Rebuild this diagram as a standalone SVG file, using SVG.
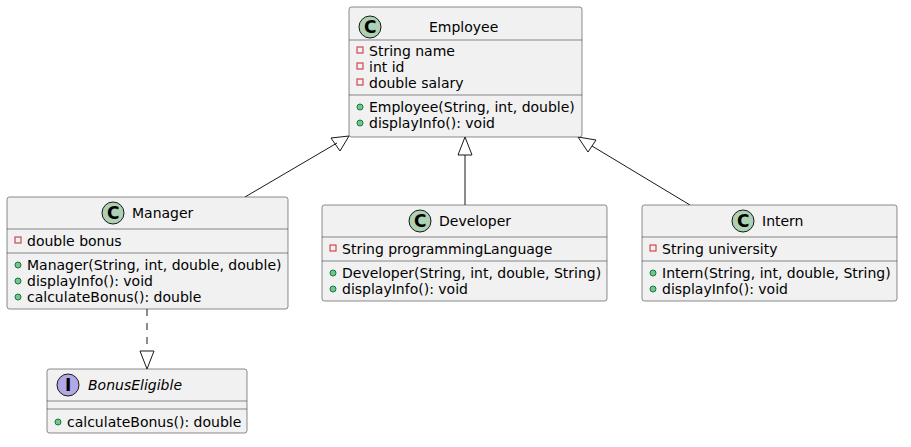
<svg xmlns="http://www.w3.org/2000/svg" width="911" height="447" viewBox="0 0 911 447">
<style>
.box{fill:#F1F1F1;stroke:#181818;stroke-width:0.5}
.sep{stroke:#181818;stroke-width:0.5}
text{font-family:"DejaVu Sans",sans-serif;font-size:14px;fill:#000}
.c{fill:#ADD1B2;stroke:#181818;stroke-width:1}
.i{fill:#B4A7E5;stroke:#181818;stroke-width:1}
.l{fill:#000;font-size:17px;font-weight:bold}
.pr{fill:none;stroke:#C82930;stroke-width:1}
.pu{fill:#84BE84;stroke:#038048;stroke-width:1}
.conn{stroke:#181818;stroke-width:1;fill:none}
.tri{fill:none;stroke:#181818;stroke-width:1}
</style>
<g id="connectors">
<line class="conn" x1="245" y1="197" x2="337" y2="143"/>
<polygon class="tri" points="349,136 331,138 340,151"/>
<line class="conn" x1="465" y1="205" x2="465" y2="155"/>
<polygon class="tri" points="465,137 458,155 472,155"/>
<line class="conn" x1="690" y1="205" x2="592" y2="146"/>
<polygon class="tri" points="578,137 588,152 596,140"/>
<line class="conn" x1="147" y1="309" x2="147" y2="351" stroke-dasharray="7,7"/>
<polygon class="tri" points="147,369 140,351 154,351"/>
</g>
<g id="Employee">
<rect class="box" x="349" y="7" width="233" height="130" rx="2.5"/>
<circle class="c" cx="370" cy="27" r="11"/><text class="l" x="364" y="33">C</text>
<text x="429" y="32">Employee</text>
<line class="sep" x1="349" y1="40" x2="582" y2="40"/>
<rect class="pr" x="357" y="47" width="6" height="6"/><text x="369" y="56">String name</text>
<rect class="pr" x="357" y="63" width="6" height="6"/><text x="369" y="72">int id</text>
<rect class="pr" x="357" y="79" width="6" height="6"/><text x="369" y="88">double salary</text>
<line class="sep" x1="349" y1="95" x2="582" y2="95"/>
<circle class="pu" cx="360" cy="107" r="3"/><text x="369" y="112">Employee(String, int, double)</text>
<circle class="pu" cx="360" cy="123" r="3"/><text x="369" y="128">displayInfo(): void</text>
</g>
<g id="Manager">
<rect class="box" x="7" y="197" width="281" height="112" rx="2.5"/>
<circle class="c" cx="113" cy="213" r="11"/><text class="l" x="107" y="219">C</text>
<text x="132" y="218">Manager</text>
<line class="sep" x1="7" y1="229" x2="288" y2="229"/>
<rect class="pr" x="15" y="237" width="6" height="6"/><text x="27" y="246">double bonus</text>
<line class="sep" x1="7" y1="253" x2="288" y2="253"/>
<circle class="pu" cx="18" cy="265" r="3"/><text x="27" y="270">Manager(String, int, double, double)</text>
<circle class="pu" cx="18" cy="281" r="3"/><text x="27" y="286">displayInfo(): void</text>
<circle class="pu" cx="18" cy="297" r="3"/><text x="27" y="302">calculateBonus(): double</text>
</g>
<g id="Developer">
<rect class="box" x="322" y="205" width="285" height="96" rx="2.5"/>
<circle class="c" cx="420" cy="221" r="11"/><text class="l" x="414" y="227">C</text>
<text x="439" y="226">Developer</text>
<line class="sep" x1="322" y1="237" x2="607" y2="237"/>
<rect class="pr" x="330" y="245" width="6" height="6"/><text x="342" y="254">String programmingLanguage</text>
<line class="sep" x1="322" y1="261" x2="607" y2="261"/>
<circle class="pu" cx="333" cy="273" r="3"/><text x="342" y="278">Developer(String, int, double, String)</text>
<circle class="pu" cx="333" cy="289" r="3"/><text x="342" y="294">displayInfo(): void</text>
</g>
<g id="Intern">
<rect class="box" x="642" y="205" width="255" height="96" rx="2.5"/>
<circle class="c" cx="743" cy="221" r="11"/><text class="l" x="737" y="227">C</text>
<text x="762" y="226">Intern</text>
<line class="sep" x1="642" y1="237" x2="897" y2="237"/>
<rect class="pr" x="650" y="245" width="6" height="6"/><text x="662" y="254">String university</text>
<line class="sep" x1="642" y1="261" x2="897" y2="261"/>
<circle class="pu" cx="653" cy="273" r="3"/><text x="662" y="278">Intern(String, int, double, String)</text>
<circle class="pu" cx="653" cy="289" r="3"/><text x="662" y="294">displayInfo(): void</text>
</g>
<g id="BonusEligible">
<rect class="box" x="47" y="369" width="200" height="64" rx="2.5"/>
<circle class="i" cx="68" cy="385" r="11"/><text class="l" x="65" y="391">I</text>
<text x="88" y="390" font-style="italic">BonusEligible</text>
<line class="sep" x1="47" y1="401" x2="247" y2="401"/>
<line class="sep" x1="47" y1="409" x2="247" y2="409"/>
<circle class="pu" cx="58" cy="422" r="3"/><text x="67" y="427">calculateBonus(): double</text>
</g>
</svg>
